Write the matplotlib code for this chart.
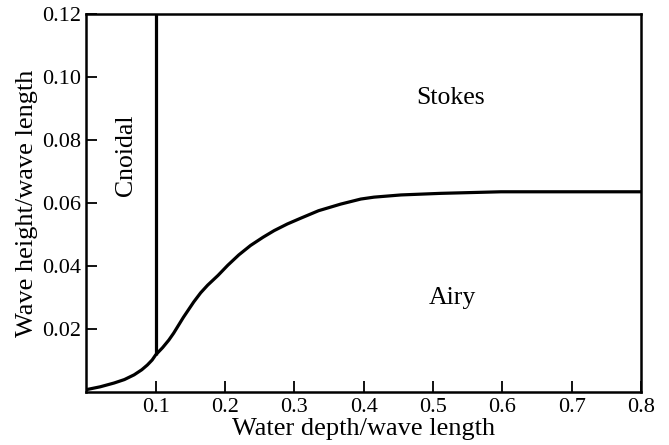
import matplotlib
matplotlib.use("Agg")
import matplotlib.pyplot as plt

# boundary between Airy and Stokes regions
depth = [0.0, 0.02, 0.04, 0.055, 0.069, 0.08, 0.088, 0.095, 0.1, 0.11,
         0.119, 0.126, 0.14, 0.155, 0.165, 0.175, 0.19, 0.204, 0.22,
         0.237, 0.255, 0.271, 0.29, 0.309, 0.335, 0.367, 0.396, 0.415,
         0.454, 0.511, 0.598, 0.7, 0.8]
height = [0.0009, 0.0018, 0.003, 0.0041, 0.0056, 0.0072, 0.0087, 0.0103,
          0.0119, 0.0142, 0.0166, 0.0188, 0.0238, 0.0287, 0.0316, 0.034,
          0.0371, 0.0403, 0.0436, 0.0466, 0.0492, 0.0513, 0.0534, 0.0552,
          0.0576, 0.0597, 0.0613, 0.0619, 0.0626, 0.0631, 0.0636, 0.0636,
          0.0636]

cnoidal_x = 0.1
cnoidal_y = [0.0119, 0.12]

xticks = [0.1, 0.2, 0.3, 0.4, 0.5, 0.6, 0.7, 0.8]
yticks = [0.02, 0.04, 0.06, 0.08, 0.10, 0.12]


def main():
    plt.rcParams["font.family"] = ["Liberation Serif", "DejaVu Serif"]

    fig = plt.figure(figsize=(6.69, 4.45), dpi=100)
    ax = fig.add_axes([0.129, 0.118, 0.829, 0.851])

    ax.plot(depth, height, color="black", lw=2.3, solid_joinstyle="round")
    ax.plot([cnoidal_x, cnoidal_x], cnoidal_y, color="black", lw=2.3,
            solid_capstyle="butt")

    ax.text(0.526, 0.0932, "Stokes", fontsize=18.5, ha="center", va="center")
    ax.text(0.528, 0.0298, "Airy", fontsize=18.5, ha="center", va="center")
    ax.text(0.057, 0.0752, "Cnoidal", fontsize=18.5, ha="center", va="center",
            rotation=90)

    ax.set_xlim(0, 0.8)
    ax.set_ylim(0, 0.12)
    ax.set_xticks(xticks)
    ax.set_xticklabels([f"{v:.1f}" for v in xticks])
    ax.set_yticks(yticks)
    ax.set_yticklabels([f"{v:.2f}" for v in yticks])
    ax.tick_params(direction="in", length=8, width=1.3, labelsize=16,
                   top=False, right=False, pad=4)
    for s in ax.spines.values():
        s.set_linewidth(1.8)

    ax.set_xlabel("Water depth/wave length", fontsize=19, labelpad=1)
    ax.set_ylabel("Wave height/wave length", fontsize=19, labelpad=3)

    fig.savefig("out.png", dpi=100)
    plt.close(fig)


if __name__ == "__main__":
    main()
